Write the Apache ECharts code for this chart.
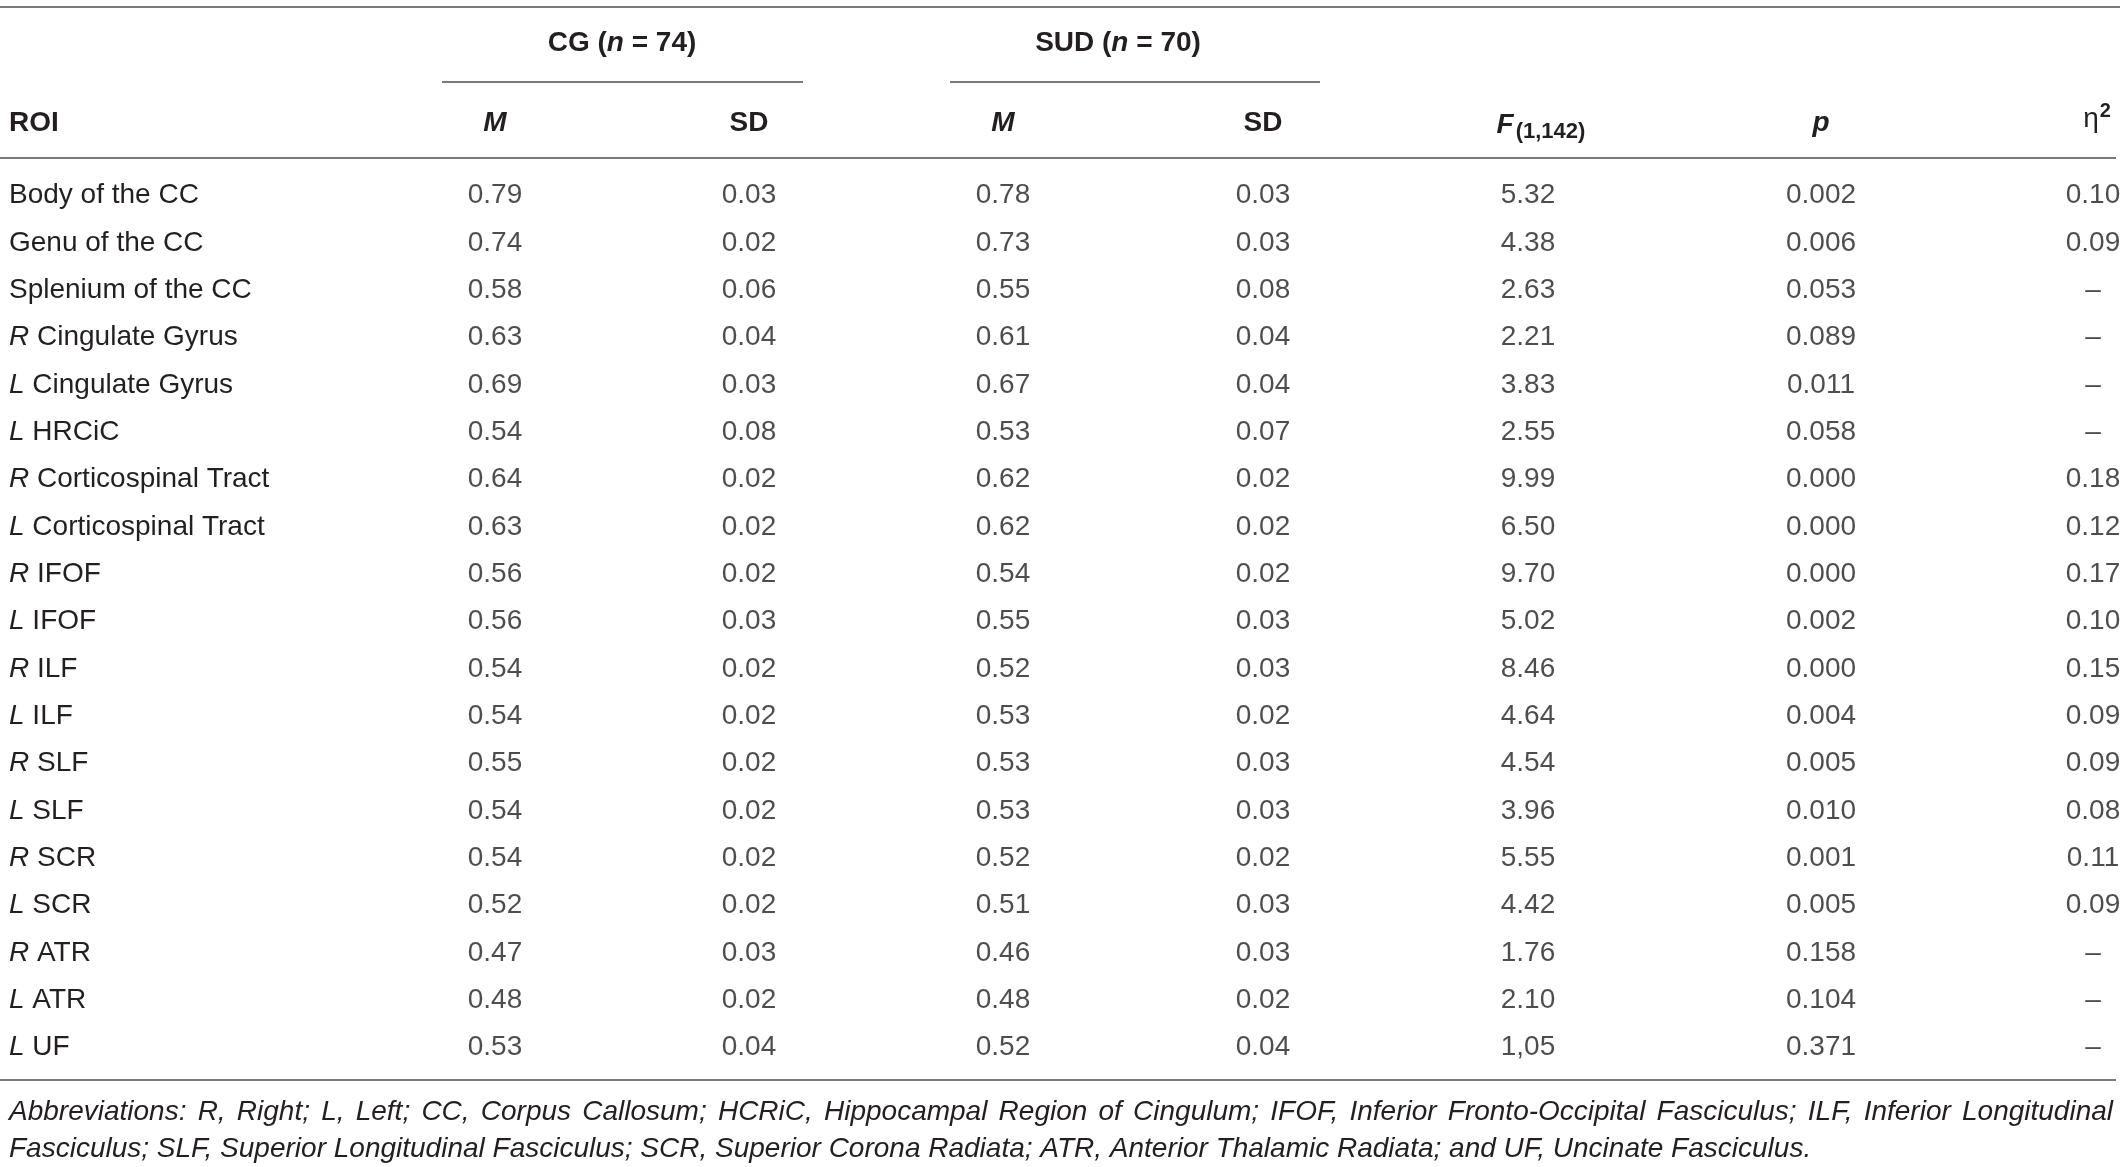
<!DOCTYPE html>
<html>
<head>
<meta charset="utf-8">
<script src="https://cdn.jsdelivr.net/npm/echarts@6/dist/echarts.min.js"></script>
<style>
  html, body { margin: 0; background: #fff; }
  #main { width: 2120px; height: 1167px; }
</style>
</head>
<body>
<div id="main"></div>
<script>
// table rows (ROI) and columns
const rois = ['Body of the CC', 'Genu of the CC', 'Splenium of the CC', 'R Cingulate Gyrus', 'L Cingulate Gyrus',
  'L HRCiC', 'R Corticospinal Tract', 'L Corticospinal Tract', 'R IFOF', 'L IFOF', 'R ILF', 'L ILF',
  'R SLF', 'L SLF', 'R SCR', 'L SCR', 'R ATR', 'L ATR', 'L UF'];
const cgMean = [0.79, 0.74, 0.58, 0.63, 0.69, 0.54, 0.64, 0.63, 0.56, 0.56, 0.54, 0.54, 0.55, 0.54, 0.54, 0.52, 0.47, 0.48, 0.53];
const cgSD = [0.03, 0.02, 0.06, 0.04, 0.03, 0.08, 0.02, 0.02, 0.02, 0.03, 0.02, 0.02, 0.02, 0.02, 0.02, 0.02, 0.03, 0.02, 0.04];
const sudMean = [0.78, 0.73, 0.55, 0.61, 0.67, 0.53, 0.62, 0.62, 0.54, 0.55, 0.52, 0.53, 0.53, 0.53, 0.52, 0.51, 0.46, 0.48, 0.52];
const sudSD = [0.03, 0.03, 0.08, 0.04, 0.04, 0.07, 0.02, 0.02, 0.02, 0.03, 0.03, 0.02, 0.03, 0.03, 0.02, 0.03, 0.03, 0.02, 0.04];
// printed as in the source (last one uses a comma)
const fStat = ['5.32', '4.38', '2.63', '2.21', '3.83', '2.55', '9.99', '6.50', '9.70', '5.02', '8.46', '4.64',
  '4.54', '3.96', '5.55', '4.42', '1.76', '2.10', '1,05'];
const pVal = [0.002, 0.006, 0.053, 0.089, 0.011, 0.058, 0.000, 0.000, 0.000, 0.002, 0.000, 0.004, 0.005, 0.010, 0.001, 0.005, 0.158, 0.104, 0.371];
const etaSq = [0.10, 0.09, null, null, null, null, 0.18, 0.12, 0.17, 0.10, 0.15, 0.09, 0.09, 0.08, 0.11, 0.09, null, null, null];

const footnote = [
  'Abbreviations: R, Right; L, Left; CC, Corpus Callosum; HCRiC, Hippocampal Region of Cingulum; IFOF, Inferior Fronto-Occipital Fasciculus; ILF, Inferior Longitudinal',
  'Fasciculus; SLF, Superior Longitudinal Fasciculus; SCR, Superior Corona Radiata; ATR, Anterior Thalamic Radiata; and UF, Uncinate Fasciculus.'
];

// layout
const W = 2120;
const colX = [495, 749, 1003, 1263, 1528, 1821, 2093];
const rowTop = 172, rowH = 47.33;
const ink = '#231f20';
const rule = '#7a7a7a';
const FONT = '"Liberation Sans", Arial, sans-serif';
const fs = 28;
const noteFont = 'italic 28px ' + FONT;

var myChart = echarts.init(document.getElementById('main'));

function colSeries(x, values, fmt) {
  return {
    type: 'scatter',
    symbolSize: 1,
    itemStyle: { color: 'rgba(0,0,0,0)' },
    silent: true,
    data: values.map((v, i) => [x, i]),
    label: {
      show: true,
      position: 'inside',
      color: ink,
      fontFamily: FONT,
      fontSize: fs,
      formatter: p => fmt(values[p.dataIndex])
    }
  };
}

const f2 = v => v.toFixed(2);
const f3 = v => v.toFixed(3);

const hText = (text, x, y, extra) => ({
  type: 'text',
  silent: true,
  style: Object.assign({
    text: text, x: x, y: y,
    fill: ink, font: 'bold ' + fs + 'px ' + FONT,
    align: 'center', verticalAlign: 'middle'
  }, extra || {})
});
const hLine = (x1, x2, y) => ({
  type: 'line', silent: true,
  shape: { x1: x1, y1: y, x2: x2, y2: y },
  style: { stroke: rule, lineWidth: 2 }
});

// first footnote line is justified to the table width
function justified(line, x0, x1, y) {
  const ctx = document.createElement('canvas').getContext('2d');
  ctx.font = noteFont;
  const words = line.split(' ');
  const widths = words.map(w => ctx.measureText(w).width);
  const gap = (x1 - x0 - widths.reduce((a, b) => a + b, 0)) / (words.length - 1);
  let x = x0;
  return words.map((w, i) => {
    const el = hText(w, x, y, { align: 'left', font: noteFont });
    x += widths[i] + gap;
    return el;
  });
}

const richHead = {
  b: { fontFamily: FONT, fontSize: fs, fontWeight: 'bold', color: ink },
  bi: { fontFamily: FONT, fontSize: fs, fontWeight: 'bold', fontStyle: 'italic', color: ink },
  sub: { fontFamily: FONT, fontSize: 22, fontWeight: 'bold', color: ink, padding: [14, 0, 0, 2] },
  eta: { fontFamily: FONT, fontSize: fs, color: ink },
  sup: { fontFamily: FONT, fontSize: 20, fontWeight: 'bold', color: ink, padding: [0, 0, 16, 1] }
};

myChart.setOption({
  animation: false,
  grid: { left: 0, right: 0, top: rowTop, height: rowH * rois.length },
  xAxis: { type: 'value', min: 0, max: W, show: false },
  yAxis: {
    type: 'category',
    inverse: true,
    data: rois,
    axisLine: { show: false },
    axisTick: { show: false },
    splitLine: { show: false },
    axisLabel: {
      align: 'left',
      margin: -9,
      color: ink,
      fontFamily: FONT,
      fontSize: fs,
      formatter: name => {
        const m = name.match(/^([RL]) (.*)$/);
        return m ? '{i|' + m[1] + '} ' + m[2] : name;
      },
      rich: {
        i: { fontFamily: FONT, fontSize: fs, fontStyle: 'italic', color: ink }
      }
    }
  },
  series: [
    colSeries(colX[0], cgMean, f2),
    colSeries(colX[1], cgSD, f2),
    colSeries(colX[2], sudMean, f2),
    colSeries(colX[3], sudSD, f2),
    colSeries(colX[4], fStat, v => v),
    colSeries(colX[5], pVal, f3),
    colSeries(colX[6], etaSq, v => (v === null ? '\u2013' : f2(v)))
  ],
  graphic: [
    hLine(0, W, 7),
    hLine(442, 803, 82),
    hLine(950, 1320, 82),
    hLine(0, W - 4, 158),
    hLine(0, W - 4, 1080),
    hText('{b|CG (}{bi|n}{b| = 74)}', 622, 43, { rich: richHead }),
    hText('{b|SUD (}{bi|n}{b| = 70)}', 1118, 43, { rich: richHead }),
    hText('ROI', 9, 123, { align: 'left' }),
    hText('{bi|M}', colX[0], 123, { rich: richHead }),
    hText('SD', colX[1], 123),
    hText('{bi|M}', colX[2], 123, { rich: richHead }),
    hText('SD', colX[3], 123),
    hText('{bi|F}{sub|(1,142)}', 1541, 125, { rich: richHead }),
    hText('{bi|p}', colX[5], 123, { rich: richHead }),
    hText('{eta|\u03b7}{sup|2}', 2097, 119, { rich: richHead }),
    ...justified(footnote[0], 9, 2113, 1112),
    hText(footnote[1], 9, 1149, { align: 'left', font: noteFont })
  ]
});
</script>
</body>
</html>
